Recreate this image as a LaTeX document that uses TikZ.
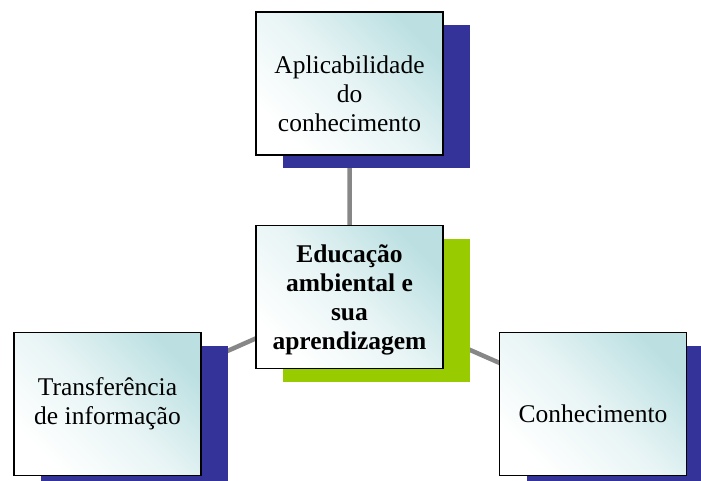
\documentclass[tikz,border=0pt]{standalone}
\usepackage{fontspec}
\setmainfont{Liberation Serif}
\usepackage{xcolor}
\usetikzlibrary{
    shadows,
    backgrounds
}
\definecolor{boxteal}{HTML}{BCE0E2}
\definecolor{shadeblue}{HTML}{333399}
\definecolor{shadegreen}{HTML}{99CC00}
\definecolor{linkgrey}{HTML}{878787}
\tikzset{topicbox/.style={draw=black, line width=1.5pt, minimum width=187pt, minimum height=143pt, inner sep=0pt, align=center, font=\fontsize{25.5}{29}\selectfont, top color=boxteal, bottom color=white, middle color=boxteal!35, shading angle=-45, general shadow={fill=#1, shadow xshift=27pt, shadow yshift=-13pt}}}
\tikzset{link/.style={draw=linkgrey, line width=4.5pt}}
\newcommand{\padtop}[1]{\rule{0pt}{#1}}

\begin{document}
\begin{tikzpicture}[x=1pt, y=-1pt]
                        \useasboundingbox (0, 0) rectangle (701, 481);
                        \node[topicbox=shadeblue] (apl) at (349.5, 83.5) {\padtop{38pt}Aplicabilidade\\do\\conhecimento};
                        \node[topicbox=shadegreen, font=\fontsize{25.5}{29}\selectfont\bfseries] (edu) at (349.5, 297) {\padtop{24pt}Educação\\ambiental e\\sua\\aprendizagem};
                        \node[topicbox=shadeblue] (tra) at (107.5, 404) {Transferência\\de informação};
                        \node[topicbox=shadeblue] (con) at (593, 404) {\padtop{38pt}Conhecimento};
                        \begin{scope}[on background layer]
                        \draw[link]
                        (edu.center) -- (apl.center)
                        (edu.center) -- (tra.center)
                        (edu.center) -- (con.center);
                        \end{scope}
                    \end{tikzpicture}
\end{document}
